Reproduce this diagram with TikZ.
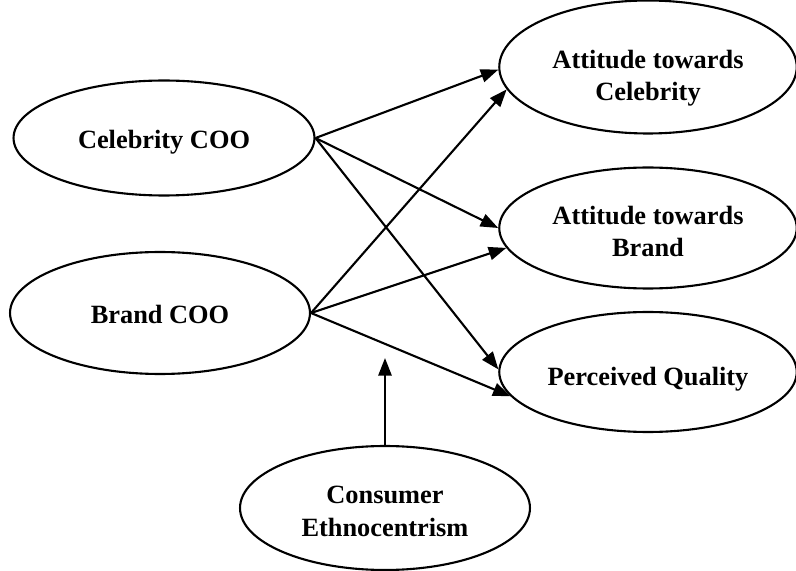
\documentclass[tikz,border=0pt]{standalone}
\usepackage{fontspec}
\setmainfont{Liberation Serif}
\usepackage{tikz}
\usetikzlibrary{arrows.meta,shapes.geometric}

\begin{document}
\begin{tikzpicture}[x=0.02cm, y=-0.02cm,
  font=\fontsize{15}{18.5}\selectfont\bfseries,
  construct/.style={ellipse, draw, line width=1.2pt, align=center,
                    inner sep=0pt, minimum width=5.95cm, minimum height=2.4cm},
  ar/.style={-{Triangle[length=10pt, width=7.5pt]}, line width=1.2pt}]
  \useasboundingbox (0,0) rectangle (796,571);

  % independent variables
  \node[construct, minimum width=6.02cm, minimum height=2.3cm,
        text height=12.2pt, text depth=0pt] (ccoo) at (164,138) {Celebrity COO};
  \node[construct, minimum width=6.0cm, minimum height=2.44cm,
        text height=12.2pt, text depth=0pt] (bcoo) at (160,313) {Brand COO};

  % outcomes
  \node[construct, minimum height=2.66cm,
        text height=38.7pt, text depth=0pt] (atc) at (648,67) {Attitude towards\\Celebrity};
  \node[construct, minimum height=2.42cm,
        text height=32.5pt, text depth=0pt] (atb) at (648,228) {Attitude towards\\Brand};
  \node[construct, text height=15.7pt, text depth=0pt] (pq) at (648,372) {Perceived Quality};

  % moderator
  \node[construct, minimum width=5.8cm, minimum height=2.48cm,
        text height=31.9pt, text depth=0pt] (ce) at (385,508) {Consumer\\Ethnocentrism};
  \coordinate (mod) at (385,358);

  \draw[ar] (ccoo.east) -- (atc.181); \draw[ar] (ccoo.east) -- (atb.180); \draw[ar] (ccoo.east) -- (pq.179);
  \draw[ar] (bcoo.east) -- (atc.189); \draw[ar] (bcoo.east) -- (atb.188); \draw[ar] (bcoo.east) -- (pq.190);
  \draw[ar] (ce.north) -- (mod);
\end{tikzpicture}
\end{document}
